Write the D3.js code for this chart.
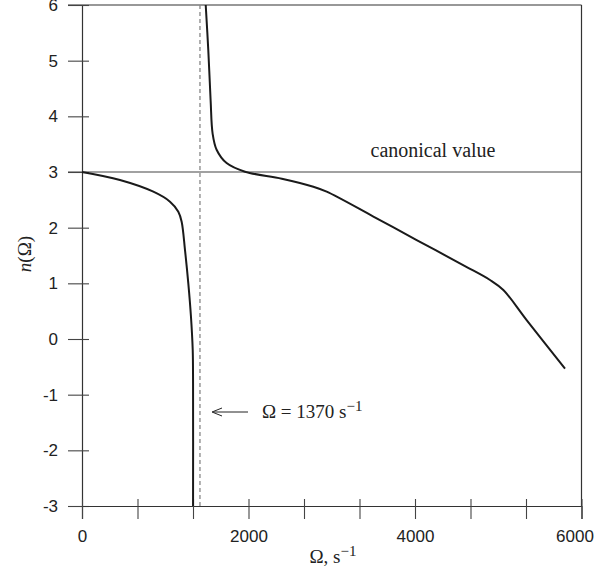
<!DOCTYPE html>
<html><head><meta charset="utf-8">
<script src="https://cdn.jsdelivr.net/npm/d3@7"></script>
<style>body{margin:0;background:#fff}</style>
</head><body>
<svg id="c" width="596" height="571"></svg>
<script>
const xTickValues = [0, 666.67, 1333.33, 2000, 2666.67, 3333.33, 4000, 4666.67, 5333.33, 6000];
const xTickLabels = [0, 2000, 4000, 6000];
const yTickValues = [-3, -2, -1, 0, 1, 2, 3, 4, 5, 6];
const canonicalValue = 3;
const resonanceLine = 1417;
const leftBranchX = [0, 456, 857, 1057, 1157, 1197, 1237, 1277, 1309, 1330, 1334, 1334];
const leftBranchY = [3, 2.856, 2.646, 2.467, 2.287, 2.107, 1.6, 1.0, 0.4, -0.2, -0.8, -3];
const rightBranchX = [1486, 1517, 1545, 1569, 1617, 1737, 1958, 2400, 2779, 2939, 3500, 4020, 4600, 4901, 5061, 5341, 5802];
const rightBranchY = [6, 5.19, 4.29, 3.69, 3.40, 3.16, 3.005, 2.88, 2.736, 2.646, 2.2, 1.778, 1.31, 1.06, 0.88, 0.34, -0.53];

const svg = d3.select("#c");
const x = d3.scaleLinear().domain([0, 6000]).range([82, 581.5]);
const y = d3.scaleLinear().domain([-3, 6]).range([506, 5]);
const axisColor = "#333";

// frame: top and right
svg.append("line").attr("x1", 68).attr("x2", x(6000)).attr("y1", y(6)).attr("y2", y(6)).attr("stroke", axisColor).attr("stroke-width", 1.2);
svg.append("line").attr("x1", x(6000)).attr("x2", x(6000)).attr("y1", y(6)).attr("y2", y(-3)).attr("stroke", axisColor).attr("stroke-width", 1.2);

// left axis
const yAxis = d3.axisLeft(y).tickValues(yTickValues).tickSize(14).tickPadding(10).tickFormat(d => String(d));
const gy = svg.append("g").attr("transform", `translate(${x(0)},0)`).call(yAxis);
gy.select(".domain").attr("stroke", axisColor).attr("stroke-width", 1.2);
gy.selectAll(".tick line").attr("stroke", "#444").attr("stroke-width", 1.1).attr("x2", 7).attr("x1", -14);
gy.selectAll(".tick text").attr("font-family", "Liberation Sans, Arial, sans-serif").attr("font-size", 17).attr("fill", "#222").attr("x", -24);

// bottom axis
const xAxis = d3.axisBottom(x).tickValues(xTickValues).tickSize(13).tickPadding(12).tickFormat(d => xTickLabels.includes(Math.round(d)) ? String(Math.round(d)) : "");
const gx = svg.append("g").attr("transform", `translate(0,${y(-3)})`).call(xAxis);
gx.select(".domain").attr("stroke", axisColor).attr("stroke-width", 1.2);
gx.selectAll(".tick line").attr("stroke", "#444").attr("stroke-width", 1.1).attr("y1", -7).attr("y2", 13);
gx.selectAll(".tick text").attr("font-family", "Liberation Sans, Arial, sans-serif").attr("font-size", 17).attr("fill", "#222").attr("dy", "0.71em").attr("y", 24)
  .attr("dx", d => Math.round(d) === 6000 ? -7 : 0);

// canonical line
svg.append("line").attr("x1", 68).attr("x2", x(6000)).attr("y1", y(canonicalValue)).attr("y2", y(canonicalValue)).attr("stroke", "#444").attr("stroke-width", 1.1);

// dashed resonance line
svg.append("line").attr("x1", x(resonanceLine)).attr("x2", x(resonanceLine)).attr("y1", y(6)).attr("y2", y(-3))
  .attr("stroke", "#888").attr("stroke-width", 1.3).attr("stroke-dasharray", "4,3");

const lineX = d3.line().x(d => x(d[0])).y(d => y(d[1])).curve(d3.curveCatmullRom.alpha(0.5));
const left = leftBranchX.map((v, i) => [v, leftBranchY[i]]);
const right = rightBranchX.map((v, i) => [v, rightBranchY[i]]);
svg.append("path").attr("d", lineX(left)).attr("fill", "none").attr("stroke", "#1a1a1a").attr("stroke-width", 2);
svg.append("path").attr("d", lineX(right)).attr("fill", "none").attr("stroke", "#1a1a1a").attr("stroke-width", 2);

// labels
const serif = "Liberation Serif, Times New Roman, serif";
svg.append("text").attr("x", 433).attr("y", 157).attr("text-anchor", "middle").attr("font-family", serif).attr("font-size", 20).attr("fill", "#222").text("canonical value");

// arrow annotation
svg.append("line").attr("x1", 214).attr("x2", 248).attr("y1", 412).attr("y2", 412).attr("stroke", "#222").attr("stroke-width", 1);
svg.append("path").attr("d", "M222,408 L212,412 L222,416").attr("fill", "none").attr("stroke", "#222").attr("stroke-width", 1);
const ann = svg.append("text").attr("x", 262).attr("y", 418).attr("font-family", serif).attr("font-size", 19).attr("fill", "#222");
ann.append("tspan").text("Ω = 1370 s");
ann.append("tspan").attr("dy", -7).attr("font-size", 15).text("−1");

// x label
const xl = svg.append("text").attr("x", 333).attr("y", 563).attr("text-anchor", "middle").attr("font-family", serif).attr("font-size", 19).attr("fill", "#222");
xl.append("tspan").text("Ω, s");
xl.append("tspan").attr("dy", -7).attr("font-size", 15).text("−1");

// y label
const yl = svg.append("text").attr("transform", "translate(31,254) rotate(-90)").attr("text-anchor", "middle").attr("font-family", serif).attr("font-size", 19).attr("fill", "#222");
yl.append("tspan").attr("font-style", "italic").text("n");
yl.append("tspan").text("(Ω)");
</script>
</body></html>
